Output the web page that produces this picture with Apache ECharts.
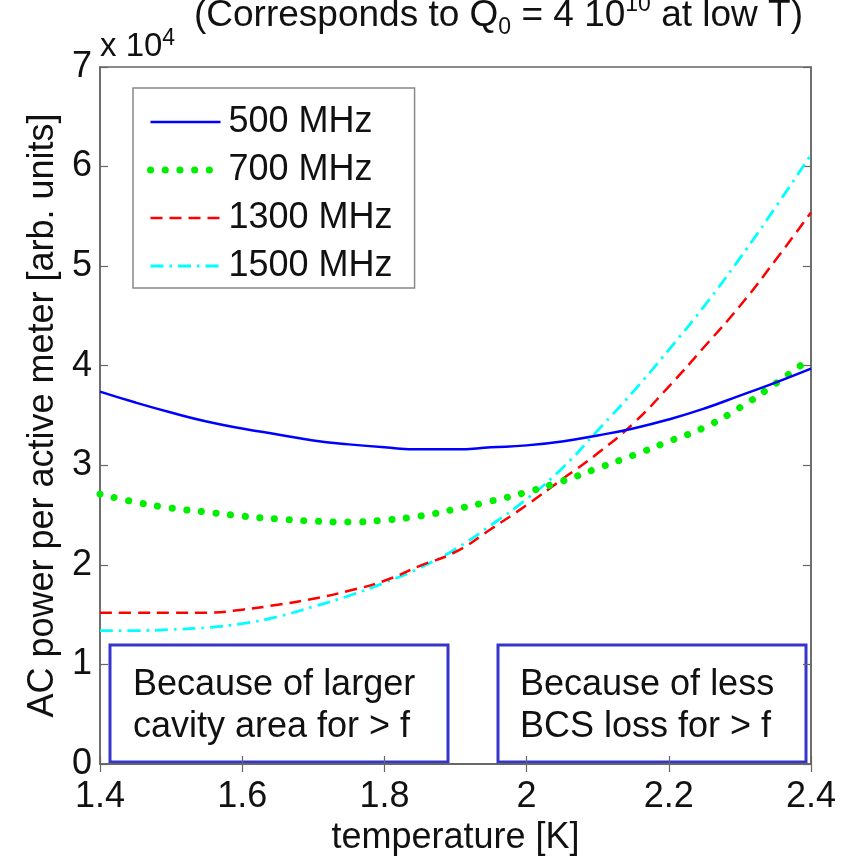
<!DOCTYPE html>
<html>
<head>
<meta charset="utf-8">
<script src="https://cdn.jsdelivr.net/npm/echarts@6/dist/echarts.min.js"></script>
<style>html,body{margin:0;padding:0;background:#fff;}#chart{width:848px;height:861px;}</style>
</head>
<body>
<div id="chart"></div>
<script>
// temperature [K]
var temps = [1.40,1.45,1.50,1.55,1.60,1.65,1.70,1.75,1.80,1.85,1.90,1.95,2.00,2.05,2.10,2.15,2.20,2.25,2.30,2.35,2.40];
// AC power per active meter, units of 1e4 (arb. units)
var p500  = [3.74,3.63,3.53,3.44,3.37,3.31,3.25,3.21,3.18,3.16,3.16,3.18,3.20,3.24,3.30,3.37,3.46,3.57,3.70,3.83,3.97];
var p700  = [2.71,2.63,2.57,2.53,2.49,2.46,2.44,2.43,2.45,2.49,2.56,2.64,2.73,2.84,2.97,3.10,3.24,3.38,3.58,3.82,4.08];
var p1300 = [1.52,1.52,1.52,1.52,1.55,1.60,1.66,1.74,1.84,1.99,2.13,2.36,2.60,2.86,3.12,3.42,3.79,4.19,4.60,5.06,5.54];
var p1500 = [1.34,1.34,1.35,1.37,1.41,1.48,1.58,1.69,1.82,1.97,2.16,2.40,2.66,2.97,3.35,3.74,4.16,4.60,5.08,5.59,6.12];
var seriesNames = ['500 MHz','700 MHz','1300 MHz','1500 MHz'];
var xTicks = [1.4, 2.4, 0.2];
var yTicks = [0, 7, 1];

var FONT = 'Liberation Sans, Arial, Helvetica, sans-serif';
function pairs(v){ return temps.map(function(t,i){ return [t, v[i]]; }); }

var chart = echarts.init(document.getElementById('chart'), null, {renderer:'canvas'});
var axisColor = '#666';
var tickCommon = {show:true, inside:true, length:8, lineStyle:{color:axisColor, width:1.2}};

var option = {
  backgroundColor:'#fff',
  animation:false,
  textStyle:{fontFamily:FONT},
  grid:{left:100, right:37, top:67, bottom:94, show:true, borderColor:axisColor, borderWidth:1.5, backgroundColor:'#fff'},
  legend:{
    show:true, orient:'vertical', left:133, top:88,
    data:seriesNames,
    backgroundColor:'#fff', borderColor:'#888', borderWidth:1.5,
    padding:[16,22,4,14], itemGap:12, itemWidth:70, itemHeight:20,
    itemStyle:{color:'rgba(0,0,0,0)', opacity:0, borderWidth:0},
    lineStyle:{width:'inherit'},
    textStyle:{fontFamily:FONT, fontSize:36, lineHeight:36, color:'#111', padding:[0,0,0,3]},
    selectedMode:false
  },
  xAxis:[
    {type:'value', min:xTicks[0], max:xTicks[1], interval:xTicks[2], position:'bottom',
     axisLine:{show:true, lineStyle:{color:axisColor, width:1.5}}, axisTick:tickCommon,
     axisLabel:{fontFamily:FONT, fontSize:36, color:'#111', margin:15},
     splitLine:{show:false},
     name:'temperature [K]', nameLocation:'middle', nameGap:56,
     nameTextStyle:{fontFamily:FONT, fontSize:36, color:'#111'}},
    {type:'value', min:xTicks[0], max:xTicks[1], interval:xTicks[2], position:'top',
     axisLine:{show:true, lineStyle:{color:axisColor, width:1.5}}, axisTick:tickCommon,
     axisLabel:{show:false}, splitLine:{show:false}}
  ],
  yAxis:[
    {type:'value', min:yTicks[0], max:yTicks[1], interval:yTicks[2], position:'left',
     axisLine:{show:true, lineStyle:{color:axisColor, width:1.5}}, axisTick:tickCommon,
     axisLabel:{fontFamily:FONT, fontSize:36, color:'#111', margin:8},
     splitLine:{show:false},
     name:'AC power per active meter [arb. units]', nameLocation:'middle', nameGap:38, nameRotate:90,
     nameTextStyle:{fontFamily:FONT, fontSize:36, color:'#111'}},
    {type:'value', min:yTicks[0], max:yTicks[1], interval:yTicks[2], position:'right',
     axisLine:{show:true, lineStyle:{color:axisColor, width:1.5}}, axisTick:tickCommon,
     axisLabel:{show:false}, splitLine:{show:false}}
  ],
  series:[
    {name:seriesNames[0], type:'line', data:pairs(p500), smooth:0.5, symbol:'none', showSymbol:false,
     lineStyle:{color:'#0000ff', width:2.5, type:'solid'}, itemStyle:{color:'#0000ff'}, z:5},
    {name:seriesNames[1], type:'line', data:pairs(p700), smooth:0.5, symbol:'none', showSymbol:false,
     lineStyle:{color:'#00ee00', width:7, type:[0.1,14.6], cap:'round'}, itemStyle:{color:'#00ee00'}, z:4},
    {name:seriesNames[2], type:'line', data:pairs(p1300), smooth:0.5, symbol:'none', showSymbol:false,
     lineStyle:{color:'#ff0000', width:2.5, type:[12,7]}, itemStyle:{color:'#ff0000'}, z:3},
    {name:seriesNames[3], type:'line', data:pairs(p1500), smooth:0.5, symbol:'none', showSymbol:false,
     lineStyle:{color:'#00ffff', width:2.8, type:[13,6,2.5,6]}, itemStyle:{color:'#00ffff'}, z:2}
  ],
  graphic:[
    {type:'text', x:194, y:-7, z:100, style:{
      text:'(Corresponds to Q{sub|0} = 4 10{sup|10} at low T)',
      fontFamily:FONT, fontSize:37, lineHeight:46, fill:'#111',
      rich:{sub:{fontFamily:FONT, fontSize:23, lineHeight:23, verticalAlign:'bottom', fill:'#111'},
            sup:{fontFamily:FONT, fontSize:23, lineHeight:23, verticalAlign:'top', fill:'#111'}}}},
    {type:'text', x:100, y:27, z:100, style:{
      text:'x 10{sup|4}', fontFamily:FONT, fontSize:33, lineHeight:40, fill:'#111',
      rich:{sup:{fontFamily:FONT, fontSize:23, lineHeight:23, verticalAlign:'top', fill:'#111'}}}},
    {type:'group', z:50, children:[
      {type:'rect', shape:{x:110, y:645, width:338, height:117}, style:{fill:'#fff', stroke:'#3535cc', lineWidth:3}},
      {type:'text', x:133, y:706, style:{text:'Because of larger\ncavity area for > f', fontFamily:FONT, fontSize:36, lineHeight:42, fill:'#111', verticalAlign:'middle', align:'left'}},
      {type:'rect', shape:{x:498, y:645, width:308, height:117}, style:{fill:'#fff', stroke:'#3535cc', lineWidth:3}},
      {type:'text', x:520, y:706, style:{text:'Because of less\nBCS loss for > f', fontFamily:FONT, fontSize:36, lineHeight:42, fill:'#111', verticalAlign:'middle', align:'left'}}
    ]}
  ]
};
chart.setOption(option);
</script>
</body>
</html>
